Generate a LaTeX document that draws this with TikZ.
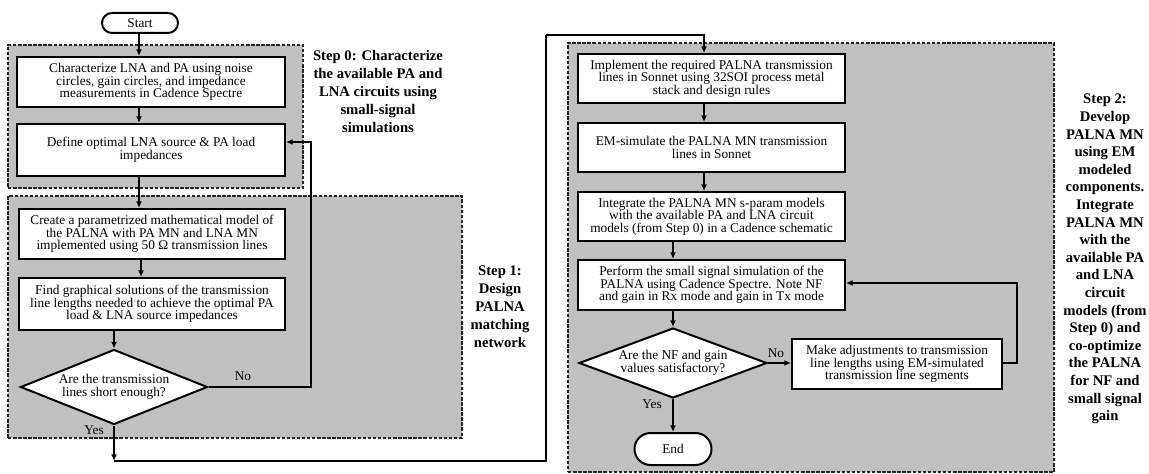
\documentclass[tikz,border=0pt]{standalone}
\usepackage{fontspec}
\setmainfont{Liberation Serif}
\usetikzlibrary{shapes.geometric,shapes.misc,arrows.meta}
\definecolor{stagegray}{RGB}{192,192,192}
\begin{document}
\begin{tikzpicture}[x=0.75pt,y=-0.75pt,
  sz/.style 2 args={minimum width=#1*0.75pt, minimum height=#2*0.75pt},
  frame/.style={draw=black!85, dash pattern=on 2.6pt off 1.2pt, line width=0.9pt, fill=stagegray, inner sep=0pt},
  pbox/.style={draw, line width=1.5pt, fill=white, align=center, inner sep=0pt, font=\fontsize{10}{9.5}\selectfont},
  term/.style={rounded rectangle, draw, line width=1.5pt, fill=white, inner sep=0pt, font=\fontsize{10}{9.5}\selectfont},
  decide/.style={diamond, draw, line width=1.5pt, fill=white, align=center, inner sep=0pt, font=\fontsize{10}{9.5}\selectfont},
  steplabel/.style={align=center, font=\fontsize{11}{13.6}\selectfont\bfseries},
  answer/.style={font=\fontsize{10}{10}\selectfont},
  flow/.style={line width=1.2pt, -{Latex[length=5pt,width=4.5pt]}},
  wire/.style={line width=1.2pt}
]
\useasboundingbox (0,0) rectangle (1149,474);

% stage frames
\node[frame, sz={295}{143}] (f0) at (155.5,116.5) {};
\node[frame, sz={454}{242}] (f1) at (235,317) {};
\node[frame, sz={486}{429}] (f2) at (811,257.5) {};

% left column
\node[term, sz={76}{20}] (start) at (140,23) {Start};
\node[pbox, sz={268}{50}] (b1) at (151,82) {Characterize LNA and PA using noise\\circles, gain circles, and impedance\\measurements in Cadence Spectre};
\node[pbox, sz={268}{52}] (b2) at (151,150) {Define optimal LNA source \& PA load\\impedances};
\node[pbox, sz={266}{50}] (b3) at (152,234) {Create a parametrized mathematical model of\\the PALNA with PA MN and LNA MN\\implemented using 50 Ω transmission lines};
\node[pbox, sz={266}{52}] (b4) at (152,304) {Find graphical solutions of the transmission\\line lengths needed to achieve the optimal PA\\load \& LNA source impedances};
\node[decide, aspect=2.5, sz={187}{75}] (d1) at (114,387) {Are the transmission\\lines short enough?};

% right column
\node[pbox, sz={267}{49}] (b5) at (711.5,78.5) {Implement the required PALNA transmission\\lines in Sonnet using 32SOI process metal\\stack and design rules};
\node[pbox, sz={267}{49}] (b6) at (711.5,147.5) {EM-simulate the PALNA MN transmission\\lines in Sonnet};
\node[pbox, sz={267}{49}] (b7) at (711.5,216.5) {Integrate the PALNA MN s-param models\\with the available PA and LNA circuit\\models (from Step 0) in a Cadence schematic};
\node[pbox, sz={267}{50}] (b8) at (711.5,285) {Perform the small signal simulation of the\\PALNA using Cadence Spectre. Note NF\\and gain in Rx mode and gain in Tx mode};
\node[decide, aspect=2.7, sz={188}{70}] (d2) at (673,363) {Are the NF and gain\\values satisfactory?};
\node[pbox, sz={210}{50}] (adj) at (897,364) {Make adjustments to transmission\\line lengths using EM-simulated\\transmission line segments};
\node[term, sz={77}{32}] (end) at (673,449) {End};

% stage descriptions
\node[steplabel] (s0) at (378,91.5) {Step 0: Characterize\\the available PA and\\LNA circuits using\\small-signal\\simulations};
\node[steplabel] (s1) at (500,306.5) {Step 1:\\Design\\PALNA\\matching\\network};
\node[steplabel, font=\fontsize{11}{13.2}\selectfont\bfseries] (s2) at (1105,259) {Step 2:\\Develop\\PALNA MN\\using EM\\modeled\\components.\\Integrate\\PALNA MN\\with the\\available PA\\and LNA\\circuit\\models (from\\Step 0) and\\co-optimize\\the PALNA\\for NF and\\small signal\\gain};

% routing points
\coordinate (colA) at (139,0);
\coordinate (colB) at (704,0);
\coordinate (colC) at (673,0);
\coordinate (back1) at (311,142);
\coordinate (yesend) at (114,461);
\coordinate (bridge) at (546,461);
\coordinate (bridgetop) at (546,35);
\coordinate (back2) at (1017,283);

% left column flow
\draw[flow] (start.south -| colA) -- (b1.north -| colA);
\draw[flow] (b1.south -| colA) -- (b2.north -| colA);
\draw[flow] (b2.south -| colA) -- (f1.north -| colA) -- (b3.north -| colA);
\draw[flow] (b3.south -| 141,0) -- (b4.north -| 141,0);
\draw[flow] (b4.south -| d1) -- (d1.north);
\draw[flow] (d1.east) -| (back1) -- (b2.east |- back1);
\node[answer] (no1) at (243,376) {No};
\draw[flow] (d1.south) -- (yesend);
\node[answer] (yes1) at (94,430) {Yes};

% bridge to step 2
\draw[wire] (yesend) -- (bridge) -- (bridgetop);
\draw[flow] (bridgetop) -| (b5.north -| colB);

% right column flow
\draw[flow] (b5.south -| colB) -- (b6.north -| colB);
\draw[flow] (b6.south -| colB) -- (b7.north -| colB);
\draw[flow] (b7.south -| colC) -- (b8.north -| colC);
\draw[flow] (b8.south -| colC) -- (d2.north);
\draw[flow] (d2.east) -- (adj.west |- d2.east);
\node[answer] (no2) at (776,353) {No};
\draw[flow] (d2.south) -- (end.north);
\node[answer] (yes2) at (652,404) {Yes};
\draw[flow] (adj.east |- d2.east) -| (back2) -- (b8.east |- back2);
\end{tikzpicture}
\end{document}
